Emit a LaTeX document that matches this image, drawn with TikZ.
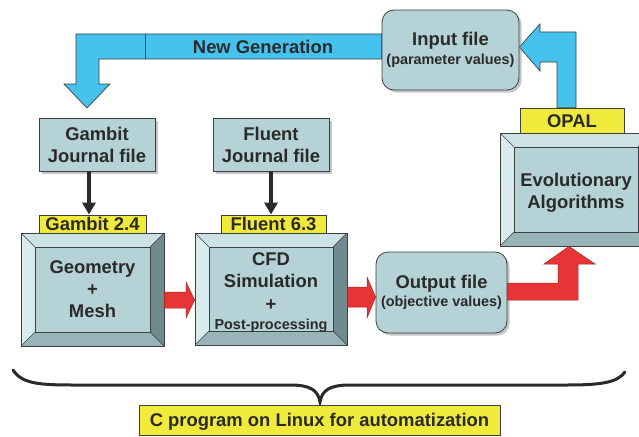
\documentclass[tikz,border=0pt]{standalone}
\usepackage{fontspec}
\setmainfont{Liberation Sans}
\usetikzlibrary{arrows.meta,shadows,calc,backgrounds}
\definecolor{boxfill}{RGB}{181,210,214}
\definecolor{bvtop}{RGB}{204,226,229}
\definecolor{bvleft}{RGB}{216,235,237}
\definecolor{bvbot}{RGB}{152,180,184}
\definecolor{bvright}{RGB}{112,138,142}
\definecolor{skyblue}{RGB}{70,194,238}
\definecolor{lblyellow}{RGB}{240,234,58}
\definecolor{arrred}{RGB}{232,52,52}
\definecolor{ink}{RGB}{42,42,42}
\definecolor{edgec}{RGB}{60,64,66}
\def\bvw{14}
\tikzset{
  bigtxt/.style={font=\fontsize{18.4}{22}\selectfont\bfseries, text=ink, align=center, inner sep=0pt},
  journal/.style={draw=edgec, line width=0.8pt, fill=boxfill, bigtxt,
    drop shadow={shadow xshift=2.5pt, shadow yshift=-2.5pt, fill=black!45}},
  rbox/.style={journal, rounded corners=12pt},
  lbl/.style={draw=edgec, line width=0.8pt, fill=lblyellow, bigtxt, text height=13.2pt, text depth=0pt},
  fatblue/.style={fill=skyblue, draw=edgec, line width=0.7pt, line join=miter},
  fatred/.style={fill=arrred, draw=arrred!70!black, line width=0.5pt},
  blk/.style={draw=ink, line width=4pt, -{Triangle[length=12pt,width=13pt]}},
  bevelnode/.style={draw=edgec, line width=0.8pt, inner sep=0pt},
  thinedge/.style={draw=edgec, line width=0.6pt},
  bracestyle/.style={draw=ink, line width=3pt, line cap=round},
}
\newcommand\mybevbox[7]{%
  \fill[bvtop] (#2,#3) -- (#4,#3) -- ({#4-\bvw},{#3+\bvw}) -- ({#2+\bvw},{#3+\bvw}) -- cycle;
  \fill[bvleft] (#2,#3) -- ({#2+\bvw},{#3+\bvw}) -- ({#2+\bvw},{#5-\bvw}) -- (#2,#5) -- cycle;
  \fill[bvbot] (#2,#5) -- ({#2+\bvw},{#5-\bvw}) -- ({#4-\bvw},{#5-\bvw}) -- (#4,#5) -- cycle;
  \fill[bvright] (#4,#3) -- ({#4-\bvw},{#3+\bvw}) -- ({#4-\bvw},{#5-\bvw}) -- (#4,#5) -- cycle;
  \filldraw[fill=boxfill, thinedge] ({#2+\bvw},{#3+\bvw}) rectangle ({#4-\bvw},{#5-\bvw});
  \draw[thinedge] (#2,#3) -- ({#2+\bvw},{#3+\bvw}) (#4,#3) -- ({#4-\bvw},{#3+\bvw})
     (#2,#5) -- ({#2+\bvw},{#5-\bvw}) (#4,#5) -- ({#4-\bvw},{#5-\bvw});
  \node[bevelnode, minimum width={(#4-#2)*1pt}, minimum height={(#5-#3)*1pt}] (#1) at ({(#2+#4)/2},{(#3+#5)/2}) {};
  \node[bigtxt] (#1-t) at ($(#1.center)+(0,#7)$) {#6};
}
\begin{document}
\begin{tikzpicture}[x=1pt,y=-1pt]
\useasboundingbox (0,0) rectangle (639,436);
\clip (0,0) rectangle (639,436);

% rounded file boxes
\node[rbox, minimum width=137pt, minimum height=80pt] (inp) at (450.5,50)
  {Input file\\[-3.5pt]{\fontsize{14.4}{17}\selectfont (parameter values)}};
\node[rbox, minimum width=131pt, minimum height=81pt] (out) at (441.5,292.5)
  {Output file\\[-3.5pt]{\fontsize{14.4}{17}\selectfont (objective values)}};

% journal boxes
\node[journal, minimum width=116pt, minimum height=53pt] (gj) at (97,144.5) {Gambit\\Journal file};
\node[journal, minimum width=116pt, minimum height=53pt] (fj) at (271,144.5) {Fluent\\Journal file};

% bevel boxes
\mybevbox{geo}{21}{233}{164}{346}{Geometry\\+\\Mesh}{0}
\mybevbox{cfd}{195}{233}{347}{345}{CFD\\Simulation\\[1pt]+\\[-3pt]{\fontsize{14.4}{17}\selectfont Post-processing}}{3.5}
\mybevbox{evo}{500}{133}{652}{246}{Evolutionary\\Algorithms}{3.5}

% labels
\node[lbl, minimum width=107pt, minimum height=18pt] (g24) at (92.5,224) {Gambit 2.4};
\node[lbl, minimum width=105pt, minimum height=18pt] (f63) at (273.5,224) {Fluent 6.3};
\node[lbl, minimum width=104pt, minimum height=25pt] (opal) at (572,120.5) {OPAL};

% blue arrows (behind the boxes)
\begin{scope}[on background layer]
\path[fatblue] (inp.west |- 0,34) -- (76,34) -- (76,84) -- (64,84) -- (87,108) -- (110,84)
  -- (99,84) -- (99,59) -- (inp.west |- 0,59) -- cycle;
\draw[thinedge] (145,34) -- (145,59);
\path[fatblue] (557,0 |- opal.north) -- (557,62) -- (540,62) -- (540,71) -- (inp.east |- 0,47)
  -- (540,24) -- (540,32) -- (576,32) -- (576,0 |- opal.north) -- cycle;
\end{scope}
\node[bigtxt] (ng) at (263,47) {New Generation};

% black arrows
\draw[blk] ([xshift=-8pt]gj.south) -- ([xshift=-8pt]gj.south |- g24.north);
\draw[blk] (fj.south) -- (fj.south |- f63.north);

% red arrows
\path[fatred] (geo.east |- 0,292) -- (186,292) -- (186,282) -- (cfd.west |- 0,300) -- (186,318)
  -- (186,308) -- (geo.east |- 0,308) -- cycle;
\path[fatred] (cfd.east |- 0,287) -- (367,287) -- (367,277) -- (out.west |- 0,297) -- (367,318)
  -- (367,307) -- (cfd.east |- 0,307) -- cycle;
\path[fatred] (out.east |- 0,283) -- (558,283) -- (558,264) -- (544,264) -- (569,0 |- evo.south)
  -- (595,264) -- (578,264) -- (578,300) -- (out.east |- 0,300) -- cycle;

% brace and program label
\coordinate (bl) at (13,370);
\coordinate (bt) at (320,402);
\coordinate (br) at (625,372);
\draw[bracestyle] (bl) .. controls (22,384) and (40,385) .. (75,385) -- (290,385)
  .. controls (310,385) and (318,390) .. (bt)
  .. controls (322,390) and (330,385) .. (350,385) -- (565,385)
  .. controls (600,385) and (617,383) .. (br);
\node[lbl, minimum width=361pt, minimum height=30pt] (cprog) at (319.5,420) {C program on Linux for automatization};
\end{tikzpicture}
\end{document}
